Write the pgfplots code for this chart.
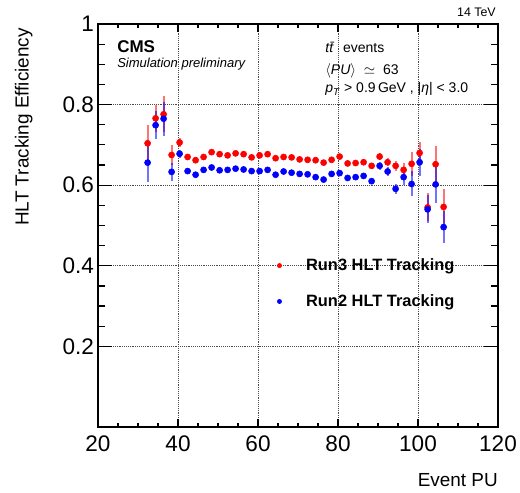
\documentclass[border=0pt]{standalone}
\usepackage{pgfplots}
\usepackage{pgfplotstable}
\pgfplotsset{compat=1.18}
\usepackage{fontspec}
\setmainfont{Liberation Sans}

\pgfplotstableread{
x run3 e3 run2 e2
32.4 0.704 0.045 0.656 0.047
34.4 0.766 0.033 0.749 0.035
36.4 0.776 0.045 0.765 0.042
38.4 0.675 0.025 0.633 0.022
40.4 0.706 0.010 0.678 0.010
42.4 0.670 0.007 0.635 0.008
44.4 0.662 0.007 0.626 0.007
46.4 0.670 0.005 0.638 0.005
48.4 0.682 0.004 0.644 0.004
50.4 0.677 0.004 0.637 0.004
52.4 0.674 0.004 0.638 0.004
54.4 0.679 0.004 0.641 0.004
56.4 0.677 0.004 0.639 0.004
58.4 0.669 0.004 0.635 0.004
60.4 0.674 0.004 0.635 0.004
62.4 0.677 0.004 0.638 0.004
64.4 0.667 0.004 0.626 0.004
66.4 0.670 0.004 0.634 0.004
68.4 0.669 0.004 0.631 0.004
70.4 0.664 0.004 0.628 0.004
72.4 0.663 0.004 0.627 0.004
74.4 0.662 0.005 0.620 0.005
76.4 0.656 0.005 0.614 0.005
78.4 0.663 0.005 0.628 0.005
80.4 0.671 0.005 0.630 0.005
82.4 0.654 0.005 0.618 0.005
84.4 0.655 0.006 0.620 0.006
86.4 0.657 0.006 0.623 0.006
88.4 0.648 0.007 0.610 0.007
90.4 0.671 0.009 0.648 0.010
92.4 0.657 0.010 0.634 0.011
94.4 0.648 0.012 0.591 0.012
96.4 0.638 0.018 0.620 0.019
98.4 0.653 0.030 0.603 0.031
100.4 0.680 0.027 0.657 0.033
102.4 0.545 0.035 0.540 0.035
104.4 0.652 0.045 0.602 0.047
106.4 0.546 0.045 0.496 0.040
}\data

\begin{document}
\begin{tikzpicture}
\path (0pt,0pt) rectangle (390pt,369pt);
\begin{axis}[
  at={(73.5pt,48.75pt)}, anchor=south west,
  scale only axis, width=300pt, height=302.25pt,
  xmin=20, xmax=120, ymin=0, ymax=1,
  xtick={20,40,...,120}, ytick={0.2,0.4,0.6,0.8,1},
  minor x tick num=3, minor y tick num=3,
  tick align=inside, xtick pos=both, ytick pos=both,
  xtick style={/pgfplots/major tick length=6pt,/pgfplots/minor tick length=3pt, line width=0.9pt, black},
  ytick style={/pgfplots/major tick length=10.5pt,/pgfplots/minor tick length=5.25pt, line width=0.9pt, black},
  axis line style={line width=1.4pt},
  grid=major, major grid style={densely dotted, black!70, line width=0.5pt},
  /pgf/number format/assume math mode=true,
  ticklabel style={font=\fontsize{16.9pt}{18pt}\selectfont},
  xticklabel style={inner sep=0pt, yshift=-6pt},
  yticklabel style={inner sep=0pt, xshift=-2.8pt},
  label style={font=\fontsize{14.2pt}{16pt}\selectfont},
  xlabel={Event PU},
  xlabel style={at={(axis description cs:1,-0.148)}, anchor=base east, inner sep=0pt},
  ylabel={HLT Tracking Efficiency},
  ylabel style={at={(axis description cs:-0.163,0.99)}, anchor=south east, inner sep=0pt},
  legend style={draw=none, fill=none, at={(axis cs:64.7,0.356)}, anchor=west,
    font=\bfseries\fontsize{12.3pt}{14pt}\selectfont, row sep=16.5pt, inner sep=0pt,
    nodes={inner sep=0pt}},
  legend cell align=left,
  legend image code/.code={\fill[#1] (0pt,0pt) circle (1.6pt); \path[draw=none,fill=none] (-1.6pt,0pt) rectangle (20pt,0pt);},
]
\addplot[only marks, mark=*, red, mark size=2.3pt,
  error bars/.cd, y dir=both, y explicit, error mark=none,
  error bar style={line width=1.4pt, red, opacity=0.55}]
  table[x=x, y=run3, y error=e3] {\data};
\addlegendentry{Run3 HLT Tracking}
\addplot[only marks, mark=*, blue, mark size=2.3pt,
  error bars/.cd, y dir=both, y explicit, error mark=none,
  error bar style={line width=1.4pt, blue, opacity=0.55}]
  table[x=x, y=run2, y error=e2] {\data};
\addlegendentry{Run2 HLT Tracking}
\end{axis}
\node[anchor=base west, inner sep=0pt, font=\bfseries\fontsize{12.75pt}{14pt}\selectfont] at (87.75pt,329.25pt) {CMS};
\node[anchor=base west, inner sep=0pt, font=\itshape\fontsize{9.75pt}{11pt}\selectfont] at (87.75pt,318pt) {Simulation preliminary};
\node[anchor=base west, inner sep=0pt, font=\fontsize{10.5pt}{12pt}\selectfont] at (243.75pt,329.25pt) {\textit{t\kern0.02em\={t}}\ \ events};
\node[anchor=base west, inner sep=0pt, font=\fontsize{10.5pt}{12pt}\selectfont] at (243.75pt,312.75pt) {$\langle$\textit{PU}$\rangle$ \ $\simeq$ \ 63};
\node[anchor=base west, inner sep=0pt, font=\fontsize{10.5pt}{12pt}\selectfont] at (243.75pt,299.25pt) {\textit{p}\textsubscript{\textit{T}} > 0.9\,GeV , |\textit{η}| < 3.0};
\node[anchor=base east, inner sep=0pt, font=\fontsize{9.3pt}{11pt}\selectfont] at (372pt,356.25pt) {14 TeV};
\end{tikzpicture}
\end{document}
